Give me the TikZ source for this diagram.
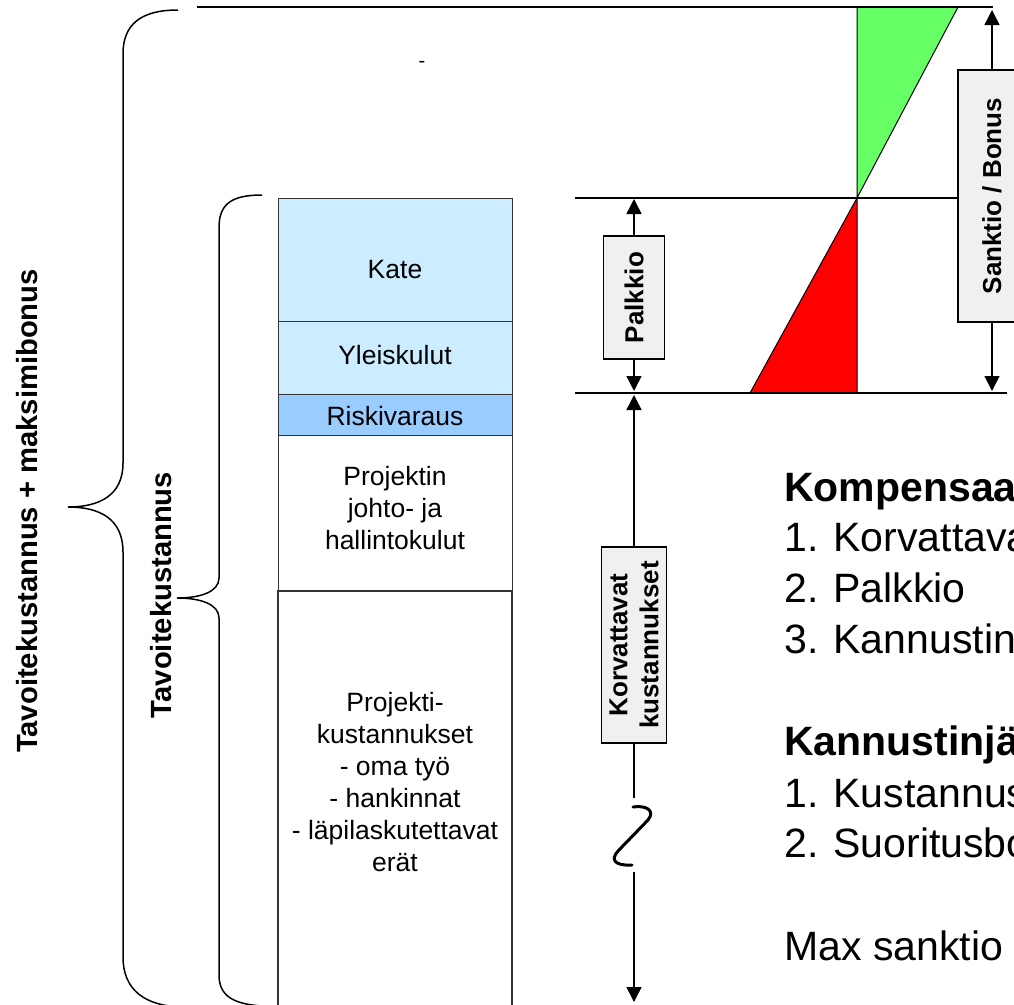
\documentclass[tikz,border=0pt]{standalone}
\usepackage{fontspec}
\setmainfont{Liberation Sans}
\usetikzlibrary{arrows.meta}
\definecolor{lightblue}{RGB}{204,236,255}
\definecolor{midblue}{RGB}{153,204,255}
\definecolor{boxgray}{RGB}{240,240,240}
\definecolor{bonusgreen}{RGB}{102,255,102}
\definecolor{sanktred}{RGB}{255,0,0}
\begin{document}
\begin{tikzpicture}[x=1pt,y=-1pt,
  cell/.style={draw=black!80, line width=1pt, inner sep=0pt, minimum width=234pt},
  celltext/.style={font=\fontsize{26.5}{32}\selectfont, align=center, inner sep=0pt},
  tag/.style={draw=black, line width=1.2pt, fill=boxgray, rotate=90, inner sep=0pt, font=\bfseries\fontsize{26}{31}\selectfont, align=center},
  hline/.style={line width=1.6pt},
  arr/.style={line width=1.5pt, -{Triangle[width=15pt,length=15pt]}},
  sidelabel/.style={rotate=90, anchor=base, font=\bfseries\fontsize{29.2}{34}\selectfont, inner sep=0pt},
  brace/.style={line width=1.5pt},
  body/.style={anchor=base west, inner sep=0pt, font=\fontsize{41}{51}\selectfont},
  bodybold/.style={anchor=base west, inner sep=0pt, font=\bfseries\fontsize{41}{51}\selectfont},
]
\useasboundingbox (0,0) rectangle (1014,1004);
\fill[white] (0,0) rectangle (1014,1004);
\clip (0,0) rectangle (1014,1004);

% coordinates
\coordinate (topL) at (197,7);
\coordinate (topR) at (993,7);
\coordinate (midL) at (575,198);
\coordinate (botL) at (575,393);
\coordinate (botR) at (1007,393);
\coordinate (skTop) at (992,10);
\coordinate (skBot) at (992,391);
\coordinate (pkTop) at (634,199);
\coordinate (pkBot) at (634,391);
\coordinate (kvTop) at (634,395);
\coordinate (kvBrk1) at (634,798);
\coordinate (kvBrk2) at (634,872);
\coordinate (kvBot) at (634,1002);

% triangles
\draw[fill=bonusgreen, line width=1pt] (857,7) -- (958,7) -- (857,198) -- cycle;
\draw[fill=sanktred, line width=1pt] (857,198) -- (857,393) -- (750,393) -- cycle;

% horizontal lines
\draw[hline] (topL) -- (topR);
\draw[hline] (botL) -- (botR);

% label boxes
\node[tag, minimum width=252pt, minimum height=68pt] (sank) at (992,196) {Sanktio / Bonus};
\node[tag, minimum width=123pt, minimum height=61pt] (palk) at (634,297.5) {Palkkio};
\node[tag, minimum width=196pt, minimum height=65pt] (korv) at (634,645) {Korvattavat\\kustannukset};

\draw[hline] (midL) -- (midL -| sank.north);

% arrows
\draw[arr] (sank.east) -- (skTop);
\draw[arr] (sank.west) -- (skBot);
\draw[arr] (palk.east) -- (pkTop);
\draw[arr] (palk.west) -- (pkBot);
\draw[arr] (korv.east) -- (kvTop);
\draw[line width=1.5pt] (korv.west) -- (kvBrk1);
\draw[line width=3pt, line cap=round] (633,807) .. controls (645,805) and (656,810) .. (648,820) -- (618,851) .. controls (610,860) and (615,866) .. (632,865);
\draw[arr] (kvBrk2) -- (kvBot);

% column of cost blocks
\node[cell, fill=lightblue, minimum height=123pt] (kate) at (395,259.5) {};
\node[cell, fill=lightblue, minimum height=73pt] (yleis) at (395,357.5) {};
\node[cell, fill=midblue, minimum height=41pt] (riski) at (395,414.5) {};
\node[cell, fill=white, minimum height=156pt] (johto) at (395,513) {};
\node[cell, line width=2pt, fill=white, minimum height=421pt] (proj) at (395,801.5) {};

\node[celltext] (katet) at (395,270) {Kate};
\node[celltext] (yleist) at (395,355) {Yleiskulut};
\node[celltext] (riskit) at (395,416) {Riskivaraus};
\node[celltext] (johtot) at (395,508) {Projektin\\johto- ja\\hallintokulut};
\node[celltext] (projt) at (395,782) {Projekti-\\kustannukset\\- oma työ\\- hankinnat\\- läpilaskutettavat\\erät};

% braces
\draw[brace] (178,10) .. controls (140,10) and (123,25) .. (123,54) -- (123,463)
  .. controls (123,495) and (100,507) .. (68,507)
  .. controls (100,507) and (123,519) .. (123,552) -- (123,957)
  .. controls (123,990) and (145,1006) .. (182,1007);
\draw[brace] (262,195) .. controls (230,195) and (219,205) .. (219,228) -- (219,578)
  .. controls (219,592) and (200,598) .. (177,598)
  .. controls (200,598) and (219,604) .. (219,618) -- (219,975)
  .. controls (219,995) and (232,1004) .. (262,1006);

\node[sidelabel] (outerlbl) at (37,511) {Tavoitekustannus + maksimibonus};
\node[sidelabel] (innerlbl) at (171,595) {Tavoitekustannus};

\node[font=\fontsize{20}{20}\selectfont, inner sep=0pt] (dash) at (422,64) {-};

% right-hand text
\node[bodybold] (komp) at (784,501) {Kompensaa};
\node[body] (k1) at (784,551) {1. Korvattava};
\node[body] (k2) at (784,602) {2. Palkkio};
\node[body] (k3) at (784,653) {3. Kannustin};
\node[bodybold] (kann) at (784,755) {Kannustinjä};
\node[body] (ku1) at (784,807) {1. Kustannus};
\node[body] (ku2) at (784,857) {2. Suoritusbo};
\node[body] (maxs) at (784,960) {Max sanktio};
\end{tikzpicture}
\end{document}
